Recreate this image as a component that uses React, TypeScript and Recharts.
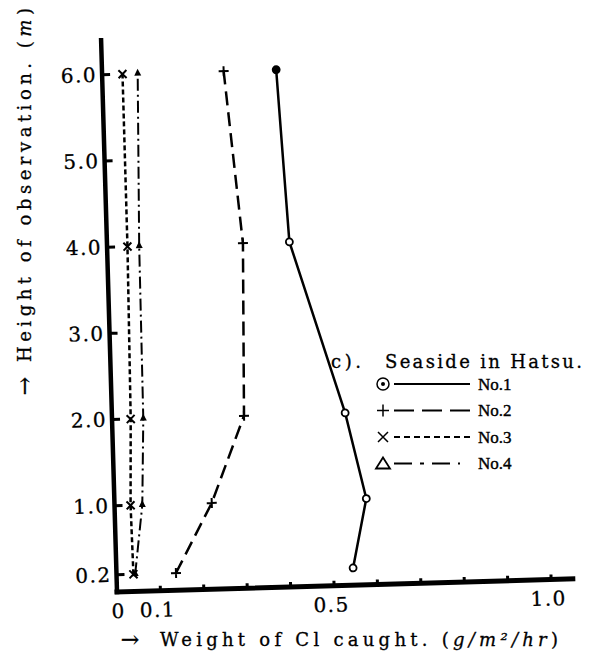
import { ScatterChart, Scatter, XAxis, YAxis } from 'recharts'

// heights of observation (m) and Cl caught (g/m2/hr) for each station
const heights = [0.2, 1.0, 2.0, 4.0, 6.0]
const no1 = [0.545, 0.58, 0.537, 0.42, 0.401]
const no2 = [0.137, 0.224, 0.304, 0.313, 0.28]
const no3 = [0.039, 0.037, 0.043, 0.047, 0.047]
const no4 = [0.043, 0.064, 0.072, 0.074, 0.082]

const xTicks = [0, 0.1, 0.2, 0.3, 0.4, 0.5, 0.6, 0.7, 0.8, 0.9, 1.0]
const xLabelled = [0, 0.1, 0.5, 1.0]
const yTicks = [0.2, 1.0, 2.0, 3.0, 4.0, 5.0, 6.0]

const legendItems = ['No.1', 'No.2', 'No.3', 'No.4']

const toPoints = (vals: number[]) => heights.map((h, i) => ({ x: vals[i], y: h }))

const serif = { fontFamily: '"DejaVu Serif", serif', fontSize: 18, fill: '#000', stroke: '#000', strokeWidth: 0.3 }
const tickFont = { ...serif, fontSize: 20, letterSpacing: 1.5 }

const YTick = (props: any) => {
  const { x, y, payload } = props
  return (
    <g>
      <line x1={x} x2={x + 8} y1={y} y2={y} stroke="#000" strokeWidth={3} />
      <text x={x - 5} y={y} dy={7} textAnchor="end" style={tickFont}>{payload.value.toFixed(1)}</text>
    </g>
  )
}

const XTick = (props: any) => {
  const { x, y, payload } = props
  const v = payload.value
  const show = xLabelled.some((t) => Math.abs(t - v) < 1e-6)
  return (
    <g>
      {v > 0 && <line x1={x} x2={x} y1={y} y2={y - 5} stroke="#000" strokeWidth={3} />}
      {show && (
        <text x={v === 0 ? x + 1 : x - 3} y={y} dy={26} textAnchor="middle" style={tickFont}>{v === 0 ? '0' : v.toFixed(1)}</text>
      )}
    </g>
  )
}

const Circle = ({ cx, cy, first }: any) => (
  <circle cx={cx} cy={cy} r={3.5} fill={first ? '#000' : '#fff'} stroke="#000" strokeWidth={1.8} />
)
const Plus = ({ cx, cy }: any) => (
  <path d={`M${cx - 5},${cy}H${cx + 5}M${cx},${cy - 5}V${cy + 5}`} stroke="#000" strokeWidth={2} />
)
const Cross = ({ cx, cy }: any) => (
  <path d={`M${cx - 4},${cy - 4}L${cx + 4},${cy + 4}M${cx - 4},${cy + 4}L${cx + 4},${cy - 4}`} stroke="#000" strokeWidth={2} />
)
const Tri = ({ cx, cy }: any) => <path d={`M${cx},${cy - 5}L${cx + 3.5},${cy + 2}L${cx - 3.5},${cy + 2}Z`} fill="#000" />

const legendDash = ['', '20 8', '6 4', '18 8 4 8']
const legendEnd = [470, 472, 470, 460]

function LegendSymbol({ i, x, y }: { i: number; x: number; y: number }) {
  if (i === 0)
    return (
      <g>
        <circle cx={x} cy={y} r={6} fill="none" stroke="#000" strokeWidth={1.5} />
        <circle cx={x} cy={y} r={2} fill="#000" />
      </g>
    )
  if (i === 1) return <path d={`M${x - 6},${y}H${x + 6}M${x},${y - 6}V${y + 6}`} stroke="#000" strokeWidth={1.5} />
  if (i === 2) return <path d={`M${x - 5},${y - 5}L${x + 5},${y + 5}M${x - 5},${y + 5}L${x + 5},${y - 5}`} stroke="#000" strokeWidth={1.5} />
  return <path d={`M${x},${y - 6}L${x + 7},${y + 5}L${x - 7},${y + 5}Z`} fill="none" stroke="#000" strokeWidth={1.8} />
}

export default function App() {
  return (
    <div style={{ position: 'absolute', left: 0, top: 0, width: 607, height: 659, background: '#fff' }}>
      <div style={{ position: 'absolute', left: 0, top: 0, transform: 'rotate(-1.65deg)', transformOrigin: '117px 592px' }}>
        <ScatterChart width={607} height={659} margin={{ top: 40, right: 34, bottom: 37, left: 57 }}>
          <XAxis
            type="number"
            dataKey="x"
            domain={[0, 1.05]}
            ticks={xTicks}
            interval={0}
            height={30}
            tickSize={0}
            tickMargin={0}
            tickLine={false}
            tick={<XTick />}
            axisLine={{ stroke: '#000', strokeWidth: 5, strokeLinecap: 'square' }}
          />
          <YAxis
            type="number"
            dataKey="y"
            domain={[0, 6.4]}
            ticks={yTicks}
            interval={0}
            width={60}
            tickSize={0}
            tickMargin={0}
            tickLine={false}
            tick={<YTick />}
            axisLine={{ stroke: '#000', strokeWidth: 4.5, strokeLinecap: 'square' }}
          />
          <Scatter name="No.1" data={toPoints(no1)} isAnimationActive={false} lineType="joint"
            line={{ stroke: '#000', strokeWidth: 2.5 }}
            shape={(p: any) => <Circle cx={p.cx} cy={p.cy} first={p.payload && p.payload.y === 6} />} />
          <Scatter name="No.2" data={toPoints(no2)} isAnimationActive={false} lineType="joint"
            line={{ stroke: '#000', strokeWidth: 2.5, strokeDasharray: '14 7' }} shape={(p: any) => <Plus cx={p.cx} cy={p.cy} />} />
          <Scatter name="No.3" data={toPoints(no3)} isAnimationActive={false} lineType="joint"
            line={{ stroke: '#000', strokeWidth: 2.5, strokeDasharray: '5 3' }} shape={(p: any) => <Cross cx={p.cx} cy={p.cy} />} />
          <Scatter name="No.4" data={toPoints(no4)} isAnimationActive={false} lineType="joint"
            line={{ stroke: '#000', strokeWidth: 2, strokeDasharray: '12 4 2 4' }} shape={(p: any) => <Tri cx={p.cx} cy={p.cy} />} />
        </ScatterChart>
      </div>
      <svg width={607} height={659} style={{ position: 'absolute', left: 0, top: 0, pointerEvents: 'none' }}>
        {/* y axis title */}
        <text x={24} y={386} transform="rotate(-90 24 386)" textAnchor="middle" dominantBaseline="central"
          style={{ ...serif, fontSize: 22 }}>→</text>
        <text x={24} y={362} transform="rotate(-90 24 362)" dominantBaseline="central"
          textLength={354} lengthAdjust="spacing" style={serif}>
          {'Height of observation. ('}<tspan fontStyle="italic">m</tspan>{')'}
        </text>
        {/* x axis title */}
        <text x={130} y={639} textAnchor="middle" dominantBaseline="central" style={{ ...serif, fontSize: 22 }}>→</text>
        <text x={160} y={639} dominantBaseline="central" textLength={398} lengthAdjust="spacing" style={serif}>
          {'Weight of Cl caught. ('}<tspan fontStyle="italic">g/m²/hr</tspan>{')'}
        </text>
        {/* legend */}
        <text x={331} y={361} dominantBaseline="central" textLength={30} lengthAdjust="spacing" style={serif}>c).</text>
        <text x={385} y={361} dominantBaseline="central" textLength={197} lengthAdjust="spacing" style={serif}>
          Seaside in Hatsu.
        </text>
        {legendItems.map((name, i) => {
          const y = 384 + i * 26.5
          return (
            <g key={name}>
              <LegendSymbol i={i} x={383} y={y} />
              <line x1={394} x2={legendEnd[i]} y1={y} y2={y} stroke="#000" strokeWidth={2.2}
                strokeDasharray={legendDash[i] || undefined} />
              <text x={478} y={y} dominantBaseline="central"
                style={{ fontFamily: '"Liberation Serif", serif', fontSize: 17, fill: '#000', stroke: '#000', strokeWidth: 0.4 }}>
                {name}
              </text>
            </g>
          )
        })}
      </svg>
    </div>
  )
}
